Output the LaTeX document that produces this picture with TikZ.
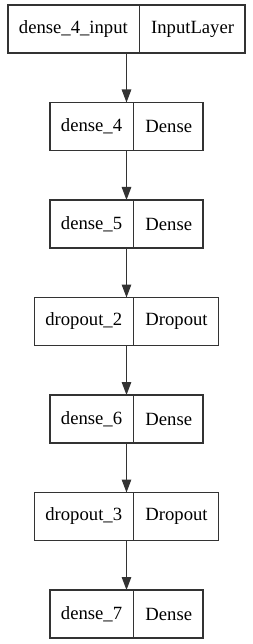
\documentclass[tikz,border=0pt]{standalone}
\usepackage{fontspec}
\setmainfont{Liberation Serif}
\usepackage{tikz}
\usetikzlibrary{arrows.meta,positioning,shapes.multipart}

\tikzset{
    layer/.style={rectangle split, rectangle split horizontal, rectangle split parts=2,
        draw=black!80, line width=1.3pt, inner xsep=11pt, inner ysep=0pt, outer sep=0pt,
        minimum height=48pt, font=\fontsize{18.67}{22}\selectfont},
    flow/.style={draw=black!80, line width=1.3pt, -{Triangle[length=13pt,width=9.5pt]}}
}

\begin{document}
\begin{tikzpicture}[x=1pt, y=-1pt, node distance=49.5pt]
    \useasboundingbox (0,0) rectangle (252,644);

    % Layers of the model, top to bottom
    \node[layer, anchor=north] (input) at (126.5,5) {dense\_4\_input \nodepart{two} InputLayer};
    \node[layer, below=of input] (dense4) {dense\_4 \nodepart{two} Dense};
    \node[layer, below=of dense4] (dense5) {dense\_5 \nodepart{two} Dense};
    \node[layer, below=of dense5] (drop2) {dropout\_2 \nodepart{two} Dropout};
    \node[layer, below=of drop2] (dense6) {dense\_6 \nodepart{two} Dense};
    \node[layer, below=of dense6] (drop3) {dropout\_3 \nodepart{two} Dropout};
    \node[layer, below=of drop3] (dense7) {dense\_7 \nodepart{two} Dense};

    % Connections
    \draw[flow] (input) -- (dense4);
    \draw[flow] (dense4) -- (dense5);
    \draw[flow] (dense5) -- (drop2);
    \draw[flow] (drop2) -- (dense6);
    \draw[flow] (dense6) -- (drop3);
    \draw[flow] (drop3) -- (dense7);
\end{tikzpicture}
\end{document}
